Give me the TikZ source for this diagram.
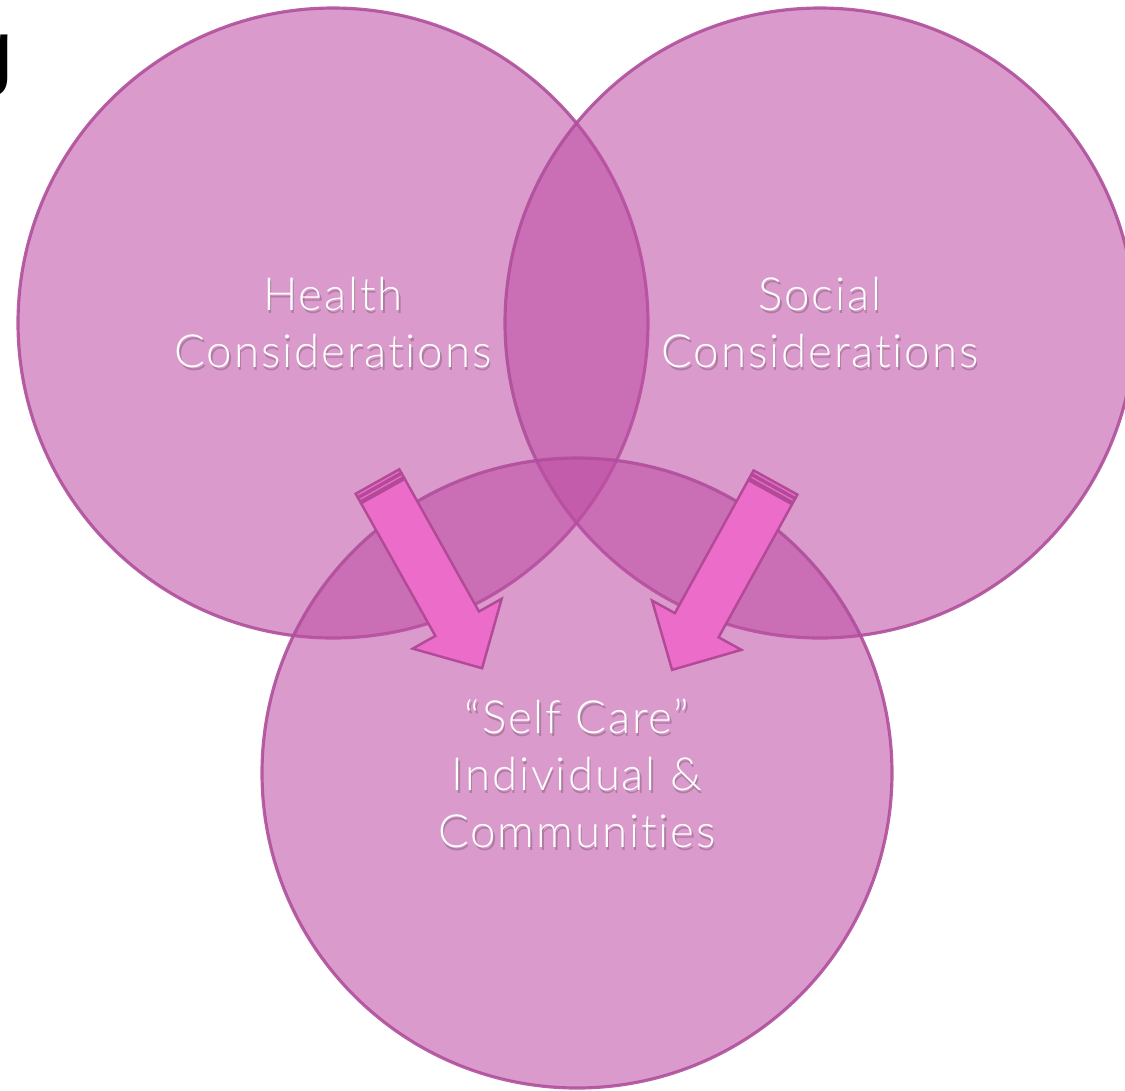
\documentclass[tikz,border=0pt]{standalone}
\usepackage{fontspec}
\setmainfont{Lato}[UprightFont=* Light, Ligatures={NoCommon}, LetterSpace=4]
\newfontfamily\titlefont{Liberation Sans}
\usetikzlibrary{calc}

\definecolor{vennfill}{RGB}{190,78,164}
\definecolor{venndraw}{RGB}{176,78,156}
\definecolor{arrowfill}{RGB}{236,108,202}
\definecolor{arrowdraw}{RGB}{178,74,152}

\tikzset{
  venn/.style={circle, minimum size=6.3cm, inner sep=0pt, fill=vennfill, fill opacity=0.57, draw=venndraw, draw opacity=0.9, line width=0.9pt},
  lbl/.style={text=white, align=center, font=\fontsize{13}{16.2}\selectfont},
  lblshadow/.style={lbl, text=black, text opacity=0.2},
  arrowpart/.style={fill=arrowfill, draw=arrowdraw, line width=0.7pt, line join=miter},
  pics/downarrow/.style={code={
    \path[arrowpart] (0,-0.25) rectangle (0.04,0.25);
    \path[arrowpart] (0.05,-0.25) rectangle (0.09,0.25);
    \path[arrowpart] (0.11,-0.25) -- (1.63,-0.25) -- (1.63,-0.51) -- (2.14,0) -- (1.63,0.51) -- (1.63,0.25) -- (0.11,0.25) -- cycle;
  }}
}

\begin{document}
\begin{tikzpicture}

\useasboundingbox (0,0) rectangle (11.25,-10.90);

% cut-off title letter
\node[anchor=base east, inner sep=0pt, font=\titlefont\fontsize{24}{28}\selectfont] (titleg) at (0.14,-0.79) {g};

% the three circles
\node[venn] (health) at (3.33,-3.23) {};
\node[venn] (social) at (8.20,-3.23) {};
\node[venn] (selfcare) at (5.77,-7.73) {};

% arrows into the bottom circle
\pic[shift={(3.775,-4.815)}, rotate=-60.74] (leftarrow) {downarrow};
\pic[shift={(7.755,-4.825)}, rotate=-118.9] (rightarrow) {downarrow};

% labels
\node[lblshadow] at ($(health)+(0.015,-0.03)$) {Health\\Considerations};
\node[lbl] (healthtxt) at (health) {Health\\Considerations};
\node[lblshadow] at ($(social)+(0.015,-0.03)$) {Social\\Considerations};
\node[lbl] (socialtxt) at (social) {Social\\Considerations};
\node[lblshadow] at ($(selfcare)+(0.015,-0.03)$) {“Self Care”\\Individual \&\\Communities};
\node[lbl] (selfcaretxt) at (selfcare) {“Self Care”\\Individual \&\\Communities};

\end{tikzpicture}
\end{document}
